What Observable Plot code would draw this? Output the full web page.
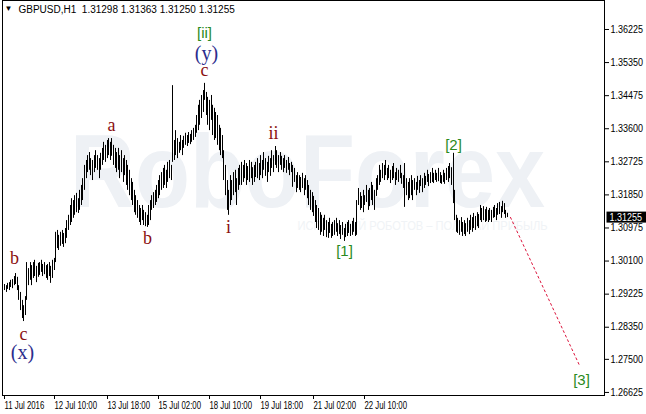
<!DOCTYPE html>
<html><head><meta charset="utf-8">
<script src="https://cdn.jsdelivr.net/npm/d3@7"></script>
<script src="https://cdn.jsdelivr.net/npm/@observablehq/plot@0.6"></script>
<style>
body{margin:0;background:#fff;}
#chart{width:646px;height:414px;}
</style></head><body><div id="chart"></div>
<script>
const symbol = "GBPUSD,H1";
const lastOHLC = [1.31298, 1.31363, 1.31250, 1.31255];

const highs = [
1.2948,1.2945,1.2951,1.2953,1.2959,1.2961,1.2969,1.2977,1.2967,1.2945,
1.2927,1.2906,1.2892,1.2916,1.3006,1.2990,1.3006,1.2998,1.3006,1.3012,
1.2996,1.3004,1.3006,1.3012,1.3001,1.3006,1.2998,1.3001,1.3006,1.2996,
1.3012,1.3017,1.3086,1.3091,1.3078,1.3086,1.3091,1.3083,1.3096,1.3117,
1.3131,1.3157,1.3175,1.3170,1.3183,1.3189,1.3175,1.3197,1.3210,1.3228,
1.3263,1.3276,1.3289,1.3297,1.3281,1.3276,1.3289,1.3302,1.3289,1.3281,
1.3295,1.3308,1.3324,1.3316,1.3329,1.3334,1.3324,1.3334,1.3316,1.3308,
1.3297,1.3308,1.3289,1.3302,1.3281,1.3289,1.3276,1.3263,1.3250,1.3228,
1.3218,1.3197,1.3183,1.3170,1.3157,1.3149,1.3157,1.3144,1.3138,1.3131,
1.3157,1.3170,1.3183,1.3191,1.3197,1.3210,1.3223,1.3236,1.3244,1.3255,
1.3263,1.3250,1.3271,1.3276,1.3263,1.3474,1.3329,1.3355,1.3334,1.3324,
1.3342,1.3329,1.3340,1.3348,1.3342,1.3350,1.3345,1.3355,1.3361,1.3369,
1.3395,1.3422,1.3435,1.3448,1.3461,1.3480,1.3456,1.3443,1.3435,1.3448,
1.3422,1.3414,1.3403,1.3395,1.3369,1.3361,1.3342,1.3302,1.3263,1.3223,
1.3197,1.3236,1.3223,1.3244,1.3250,1.3228,1.3255,1.3263,1.3271,1.3263,
1.3276,1.3268,1.3260,1.3276,1.3271,1.3257,1.3263,1.3271,1.3281,1.3268,
1.3289,1.3276,1.3297,1.3281,1.3271,1.3287,1.3281,1.3302,1.3289,1.3313,
1.3302,1.3289,1.3297,1.3287,1.3281,1.3289,1.3276,1.3284,1.3268,1.3271,
1.3263,1.3255,1.3236,1.3244,1.3236,1.3231,1.3242,1.3228,1.3236,1.3223,
1.3210,1.3197,1.3191,1.3181,1.3170,1.3157,1.3149,1.3138,1.3131,1.3123,
1.3131,1.3117,1.3112,1.3123,1.3107,1.3112,1.3117,1.3123,1.3109,1.3117,
1.3104,1.3112,1.3096,1.3107,1.3112,1.3117,1.3107,1.3115,1.3123,1.3112,
1.3170,1.3202,1.3191,1.3181,1.3197,1.3183,1.3210,1.3197,1.3202,1.3218,
1.3210,1.3197,1.3228,1.3236,1.3263,1.3250,1.3268,1.3263,1.3276,1.3255,
1.3263,1.3250,1.3260,1.3268,1.3244,1.3255,1.3250,1.3263,1.3242,1.3236,
1.3268,1.3228,1.3218,1.3228,1.3236,1.3223,1.3228,1.3218,1.3234,1.3223,
1.3236,1.3228,1.3242,1.3234,1.3250,1.3239,1.3244,1.3255,1.3242,1.3250,
1.3242,1.3255,1.3244,1.3236,1.3250,1.3242,1.3255,1.3260,1.3268,1.3257,
1.3295,1.3197,1.3131,1.3123,1.3117,1.3125,1.3112,1.3117,1.3109,1.3123,
1.3117,1.3131,1.3125,1.3136,1.3128,1.3138,1.3133,1.3157,1.3149,1.3154,
1.3146,1.3152,1.3144,1.3149,1.3144,1.3152,1.3157,1.3149,1.3162,1.3165,
1.3154,1.3168,1.3162,1.3144,1.31363];

const lows = [
1.2932,1.2927,1.2935,1.2932,1.2940,1.2937,1.2945,1.2948,1.2932,1.2906,
1.2879,1.2858,1.2850,1.2866,1.2906,1.2945,1.2959,1.2945,1.2964,1.2969,
1.2953,1.2967,1.2972,1.2980,1.2969,1.2974,1.2964,1.2959,1.2969,1.2951,
1.2964,1.2985,1.3006,1.3043,1.3038,1.3049,1.3054,1.3046,1.3056,1.3070,
1.3091,1.3104,1.3112,1.3123,1.3131,1.3138,1.3136,1.3144,1.3157,1.3170,
1.3197,1.3228,1.3244,1.3250,1.3236,1.3223,1.3244,1.3255,1.3250,1.3228,
1.3250,1.3263,1.3276,1.3271,1.3281,1.3289,1.3276,1.3287,1.3263,1.3255,
1.3244,1.3250,1.3228,1.3244,1.3218,1.3236,1.3210,1.3197,1.3183,1.3170,
1.3157,1.3138,1.3131,1.3123,1.3112,1.3104,1.3117,1.3104,1.3101,1.3099,
1.3104,1.3117,1.3144,1.3149,1.3157,1.3165,1.3175,1.3183,1.3197,1.3202,
1.3210,1.3202,1.3218,1.3228,1.3223,1.3271,1.3276,1.3289,1.3281,1.3295,
1.3302,1.3289,1.3308,1.3316,1.3313,1.3321,1.3318,1.3324,1.3329,1.3337,
1.3348,1.3355,1.3369,1.3387,1.3403,1.3435,1.3395,1.3369,1.3355,1.3382,
1.3342,1.3329,1.3334,1.3316,1.3302,1.3289,1.3281,1.3223,1.3183,1.3144,
1.3131,1.3157,1.3170,1.3183,1.3191,1.3157,1.3197,1.3210,1.3210,1.3218,
1.3228,1.3210,1.3223,1.3218,1.3228,1.3210,1.3218,1.3231,1.3228,1.3223,
1.3236,1.3228,1.3250,1.3234,1.3218,1.3244,1.3234,1.3255,1.3244,1.3263,
1.3255,1.3244,1.3263,1.3250,1.3244,1.3255,1.3242,1.3250,1.3236,1.3244,
1.3205,1.3218,1.3191,1.3202,1.3197,1.3191,1.3202,1.3183,1.3197,1.3175,
1.3157,1.3144,1.3138,1.3128,1.3112,1.3096,1.3091,1.3078,1.3086,1.3075,
1.3091,1.3072,1.3070,1.3083,1.3070,1.3075,1.3078,1.3086,1.3075,1.3080,
1.3067,1.3078,1.3062,1.3072,1.3075,1.3083,1.3075,1.3078,1.3086,1.3075,
1.3078,1.3157,1.3144,1.3149,1.3138,1.3157,1.3165,1.3144,1.3154,1.3170,
1.3157,1.3144,1.3181,1.3197,1.3210,1.3218,1.3228,1.3223,1.3236,1.3223,
1.3228,1.3215,1.3223,1.3228,1.3210,1.3223,1.3218,1.3228,1.3213,1.3202,
1.3152,1.3183,1.3170,1.3175,1.3183,1.3170,1.3197,1.3183,1.3197,1.3189,
1.3207,1.3191,1.3202,1.3210,1.3218,1.3207,1.3215,1.3218,1.3215,1.3223,
1.3218,1.3220,1.3215,1.3213,1.3218,1.3213,1.3223,1.3218,1.3228,1.3210,
1.3162,1.3117,1.3086,1.3083,1.3078,1.3086,1.3075,1.3080,1.3075,1.3086,
1.3080,1.3091,1.3086,1.3096,1.3091,1.3101,1.3096,1.3117,1.3112,1.3117,
1.3112,1.3115,1.3112,1.3117,1.3112,1.3123,1.3125,1.3117,1.3131,1.3133,
1.3123,1.3138,1.3133,1.3123,1.31250];

const yTicks = [1.36225,1.35350,1.34475,1.33600,1.32725,1.31850,1.30975,1.30100,1.29225,1.28350,1.27500,1.26625];
const xTickBars = [0,31,64,96,128,160,193,225];
const xTickLabels = ["11 Jul 2016","12 Jul 10:00","13 Jul 18:00","15 Jul 02:00","18 Jul 10:00","19 Jul 18:00","21 Jul 02:00","22 Jul 10:00"];

// Elliott wave labels
const minorText  = ["b","c","a","b","c","i","ii"];
const minorBar   = [6,12,67,89,125,140,168];
const minorPrice = [1.3017,1.2816,1.3369,1.3070,1.3514,1.3099,1.3348];
const interText  = ["(x)","(y)"];
const interBar   = [11,126];
const interPrice = [1.2768,1.3559];
const majorText  = ["[ii]","[1]","[2]","[3]"];
const majorBar   = [125,212,280,360];
const majorPrice = [1.3612,1.3035,1.3316,1.2694];

// projected path of wave [3]
const projBar   = [316,359];
const projPrice = [1.31255,1.2734];

const bars = highs.map((h,i)=>({i, high:h, low:lows[i]}));
const minor = minorText.map((t,k)=>({t, x:minorBar[k], y:minorPrice[k]}));
const inter = interText.map((t,k)=>({t, x:interBar[k], y:interPrice[k]}));
const major = majorText.map((t,k)=>({t, x:majorBar[k], y:majorPrice[k]}));
const proj = projBar.map((b,k)=>({x:b, y:projPrice[k]}));
const lastClose = lastOHLC[3];

const AX = "Liberation Sans, Arial, sans-serif";
const SERIF = "Liberation Serif, Times New Roman, serif";

const chart = Plot.plot({
  width:646, height:414,
  marginLeft:2, marginRight:42, marginTop:0, marginBottom:19,
  style:{background:"#fff", color:"#000", fontFamily:AX, fontSize:"10px", overflow:"visible"},
  x:{type:"linear", domain:[-1.2486,374.58], round:true},
  y:{domain:[1.26544,1.36992]},
  marks:[
    Plot.text(["RoboForex"], {frameAnchor:"middle", dx:4, dy:-24, text:d=>d, fontSize:104, fontWeight:"bold", fill:"#eef1f5", className:"wm"}),
    Plot.text(["ИСПОЛЬЗУЙ РОБОТОВ – ПОЛУЧАЙ ПРИБЫЛЬ"], {frameAnchor:"middle", dx:119, dy:28, text:d=>d, fontSize:12, fill:"#f0f3f6", className:"wm2"}),
    Plot.ruleX(bars, {x:"i", y1:"low", y2:"high", stroke:"#000", strokeWidth:1}),
    Plot.line(proj, {x:"x", y:"y", stroke:"#dc143c", strokeWidth:1, strokeDasharray:"2,3"}),
    Plot.text(minor, {x:"x", y:"y", text:"t", fill:"#8b1010", fontSize:18, fontFamily:SERIF}),
    Plot.text(inter, {x:"x", y:"y", text:"t", fill:"#2c2c8c", fontSize:20, fontFamily:SERIF}),
    Plot.text(major, {x:"x", y:"y", text:"t", fill:"#2a8a22", fontSize:15, fontFamily:AX}),
    Plot.frame({stroke:"#000"}),
    Plot.axisY({anchor:"right", ticks:yTicks, tickFormat:d=>d.toFixed(5), tickSize:4, tickPadding:2, fontSize:10, className:"yax"}),
    Plot.axisX({ticks:xTickBars, tickFormat:d=>xTickLabels[xTickBars.indexOf(d)], tickSize:4, tickPadding:2, textAnchor:"start", fontSize:10, className:"xax"}),
    Plot.text([`${symbol}\u00a0\u00a0${lastOHLC.map(v=>v.toFixed(5)).join(" ")}`], {frameAnchor:"top-left", dx:16, dy:5, text:d=>d, fontSize:10, textAnchor:"start"}),
    Plot.text(["▼"], {frameAnchor:"top-left", dx:2, dy:5, text:d=>d, fontSize:8, textAnchor:"start"}),
    Plot.text([lastClose], {y:d=>d, frameAnchor:"right", dx:5, text:d=>d.toFixed(5), fill:"#fff", fontSize:10, textAnchor:"start", className:"cur"})
  ]
});
document.getElementById("chart").appendChild(chart);

const svg = d3.select(chart);
function condense(sel, k){
  sel.each(function(){
    const w = this.getComputedTextLength();
    d3.select(this).attr("textLength", w * k).attr("lengthAdjust", "spacingAndGlyphs");
  });
}
condense(svg.selectAll("g.xax text"), 0.78);
condense(svg.selectAll("g.yax text"), 0.9);
condense(svg.selectAll("g.cur text"), 0.9);
// black background box behind the current-price label
svg.selectAll("g.cur text").each(function(){
  const b = this.getBBox();
  const t = this.getAttribute("transform");
  d3.select(this.parentNode).insert("rect", "text")
    .attr("x", b.x - 3).attr("y", b.y)
    .attr("width", 646).attr("height", b.height)
    .attr("transform", t).attr("fill", "#000");
});
svg.selectAll("g.wm text").attr("textLength", 475).attr("lengthAdjust","spacingAndGlyphs");
svg.selectAll("g.wm2 text").attr("textLength", 250).attr("lengthAdjust","spacingAndGlyphs");
</script>
</body></html>
